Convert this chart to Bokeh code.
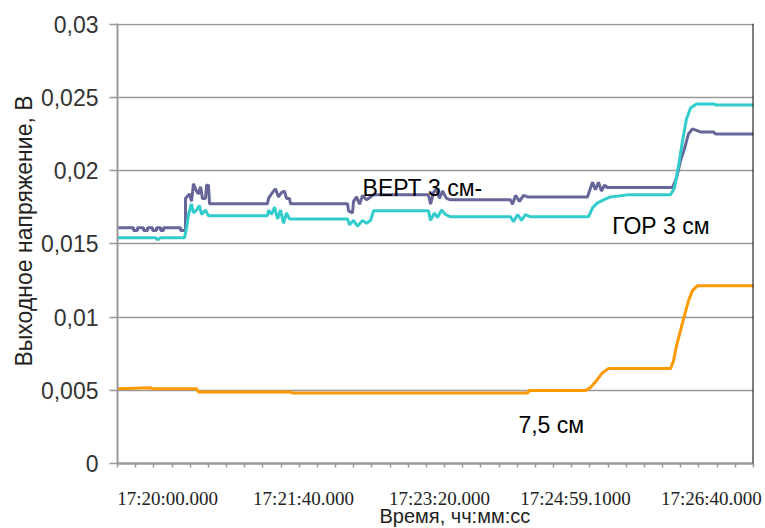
from bokeh.plotting import figure
from bokeh.models import FixedTicker, Span, Label, Range1d, Title
from bokeh.embed import file_html
from bokeh.resources import INLINE

# ---- data: time in seconds from 17:20:00, output voltage in V ----
vert_t = [-36.8, -25.0, -25.0, -22.1, -22.1, -17.6, -17.6, -14.7, -14.7, -11.0, -11.0, -8.1, -8.1,
          -5.1, -5.1, -2.9, -2.9, 9.6, 9.6, 13.2, 13.2, 16.2, 17.6, 19.1, 21.3, 22.8, 24.3, 25.7,
          27.9, 28.7, 30.1, 30.9, 73.5, 74.3, 77.2, 79.4, 81.6, 83.8, 86.0, 87.5, 89.7, 90.4,
          132.4, 133.1, 136.0, 136.8, 139.0, 141.2, 143.4, 146.3, 149.3, 151.5, 191.9, 193.4,
          195.6, 197.8, 200.0, 202.2, 205.1, 208.1, 252.2, 253.7, 255.9, 258.8, 261.8, 264.7,
          308.8, 310.3, 312.5, 314.7, 316.9, 319.1, 321.3, 323.5, 371.3, 374.3, 377.2, 380.1,
          383.1, 386.0, 391.9, 401.5, 403.0, 430.9]
vert_v = [0.0161, 0.0161, 0.0159, 0.0159, 0.0161, 0.0161, 0.0159, 0.0159, 0.0161, 0.0161, 0.0159,
          0.0159, 0.0161, 0.0161, 0.0159, 0.0159, 0.0161, 0.0161, 0.0159, 0.0159, 0.0181, 0.0184,
          0.0179, 0.0191, 0.0186, 0.0184, 0.0189, 0.0181, 0.0181, 0.0190, 0.0190, 0.01773, 0.01773,
          0.0181, 0.0185, 0.01875, 0.0182, 0.0185, 0.0186, 0.0181, 0.0181, 0.01773, 0.01773,
          0.01725, 0.0171, 0.0179, 0.0182, 0.0177, 0.0183, 0.0180, 0.0182, 0.01834, 0.01834,
          0.0177, 0.0185, 0.01875, 0.0181, 0.0186, 0.0181, 0.0180, 0.0180, 0.0177, 0.0183, 0.0179,
          0.0183, 0.0182, 0.0182, 0.0186, 0.0192, 0.0187, 0.0192, 0.0186, 0.0190, 0.01884,
          0.01884, 0.0195, 0.02066, 0.02148, 0.0225, 0.02284, 0.02264, 0.02264, 0.0225, 0.0225]

gor_t = [-36.8, -8.8, -7.4, -5.1, 12.5, 14.0, 15.4, 17.6, 19.1, 21.3, 23.5, 25.0, 27.9, 30.1,
         73.5, 74.3, 76.5, 78.7, 80.9, 83.1, 85.3, 87.5, 89.7, 132.4, 133.8, 136.8, 139.7,
         143.4, 146.3, 149.3, 151.5, 191.9, 193.4, 196.3, 198.5, 201.5, 204.4, 208.1, 252.2,
         254.4, 257.4, 260.3, 263.2, 266.9, 309.6, 312.5, 316.2, 320.6, 325.7, 338.2, 369.9,
         372.8, 375.7, 378.7, 381.6, 384.6, 389.0, 401.5, 403.0, 430.9]
gor_v = [0.01541, 0.01541, 0.01527, 0.01541, 0.01541, 0.0161, 0.0170, 0.01773, 0.0171, 0.0173,
         0.0176, 0.0170, 0.0173, 0.01691, 0.01691, 0.0173, 0.0170, 0.0175, 0.0167, 0.0173, 0.0164,
         0.0171, 0.0167, 0.0167, 0.0163, 0.0166, 0.0162, 0.0166, 0.0164, 0.0166, 0.01725,
         0.01725, 0.0166, 0.0171, 0.0168, 0.0173, 0.0170, 0.01684, 0.01684, 0.0165, 0.0170,
         0.0166, 0.0170, 0.01684, 0.01684, 0.01745, 0.0178, 0.0180, 0.0182, 0.01834, 0.01834,
         0.01882, 0.0203, 0.02202, 0.02352, 0.02427, 0.02455, 0.02455, 0.02448, 0.02448]

cm75_t = [-36.8, -12.5, -11.0, 21.3, 22.8, 90.4, 91.9, 264.7, 266.2, 307.4, 311.0, 315.4, 319.9,
          324.3, 369.9, 372.1, 374.3, 377.2, 380.1, 383.1, 386.0, 389.7, 430.9]
cm75_v = [0.00511, 0.00518, 0.00511, 0.00511, 0.00488, 0.00488, 0.00481, 0.00481, 0.00498,
          0.00498, 0.00518, 0.00566, 0.0062, 0.00648, 0.00648, 0.00702, 0.00805, 0.00907,
          0.01009, 0.01111, 0.0118, 0.01214, 0.01214]

x_ticks = [0, 100, 200, 300, 400]
x_labels = ["17:20:00.000", "17:21:40.000", "17:23:20.000", "17:24:59.1000", "17:26:40.000"]
y_ticks = [0, 0.005, 0.01, 0.015, 0.02, 0.025, 0.03]
y_labels = ["0", "0,005", "0,01", "0,015", "0,02", "0,025", "0,03"]
series_names = ["ВЕРТ 3 см-", "ГОР 3 см", "7,5 см"]
x_title = "Время, чч:мм:сс"
y_title = "Выходное напряжение, В"

x_start, x_end = -36.8, 430.9

p = figure(width=765, height=528, output_backend="svg", toolbar_location=None,
           x_range=Range1d(x_start, x_end), y_range=Range1d(0, 0.03004),
           min_border_left=117, min_border_right=12, min_border_top=23, min_border_bottom=65)
p.outline_line_color = None
p.background_fill_color = "white"
p.xgrid.visible = False
p.ygrid.grid_line_color = "#999999"
p.ygrid.grid_line_width = 1.6
p.ygrid.ticker = FixedTicker(ticks=y_ticks)

# y axis
p.yaxis.ticker = FixedTicker(ticks=y_ticks)
p.yaxis.major_label_overrides = {t: l for t, l in zip(y_ticks, y_labels)}
p.yaxis.axis_line_color = "#999999"
p.yaxis.axis_line_width = 2
p.yaxis.major_tick_out = 8
p.yaxis.major_tick_in = 0
p.yaxis.major_tick_line_color = "#999999"
p.yaxis.major_tick_line_width = 1.6
p.yaxis.minor_tick_line_color = None
p.yaxis.major_label_standoff = 11
p.yaxis.major_label_text_font = "Liberation Sans"
p.yaxis.major_label_text_font_size = "23px"
p.yaxis.major_label_text_color = "#333333"

# x axis
minor = [x_start + i * 13.36 for i in range(36)]
p.xaxis.ticker = FixedTicker(ticks=x_ticks, minor_ticks=minor)
p.xaxis.major_label_overrides = {t: l for t, l in zip(x_ticks, x_labels)}
p.xaxis.axis_line_color = "#999999"
p.xaxis.axis_line_width = 2.5
p.xaxis.major_tick_out = 0
p.xaxis.major_tick_in = 0
p.xaxis.minor_tick_out = 4
p.xaxis.minor_tick_in = 0
p.xaxis.minor_tick_line_color = "#999999"
p.xaxis.minor_tick_line_width = 1.5
p.xaxis.major_label_standoff = 20
p.xaxis.major_label_text_font = "Liberation Serif"
p.xaxis.major_label_text_font_size = "19px"
p.xaxis.major_label_text_color = "#222222"

p.add_layout(Title(text=x_title, align="left", offset=262, standoff=-18,
                   text_font="Liberation Sans", text_font_size="20px",
                   text_font_style="normal", text_color="#222222"), "below")
p.add_layout(Title(text=y_title, align="left", offset=97, standoff=2,
                   text_font="Liberation Sans", text_font_size="23px",
                   text_font_style="normal", text_color="#222222"), "left")

p.add_layout(Span(location=x_end, dimension="height", line_color="black", line_width=2))

p.line(vert_t, vert_v, line_color="#666699", line_width=3)
p.line(gor_t, gor_v, line_color="#33CCCC", line_width=3)
p.line(cm75_t, cm75_v, line_color="#FF9900", line_width=3)

lab_font = dict(text_font="Liberation Sans", text_font_size="23px", text_color="black")
p.add_layout(Label(x=143.4, y=0.01882, text=series_names[0], text_align="left",
                   text_baseline="alphabetic", **lab_font))
p.add_layout(Label(x=327, y=0.01623, text=series_names[1], text_align="left",
                   text_baseline="alphabetic", **lab_font))
p.add_layout(Label(x=258, y=0.00266, text=series_names[2], text_align="left",
                   text_baseline="alphabetic", **lab_font))

open("out.html", "w").write(file_html(p, INLINE))
